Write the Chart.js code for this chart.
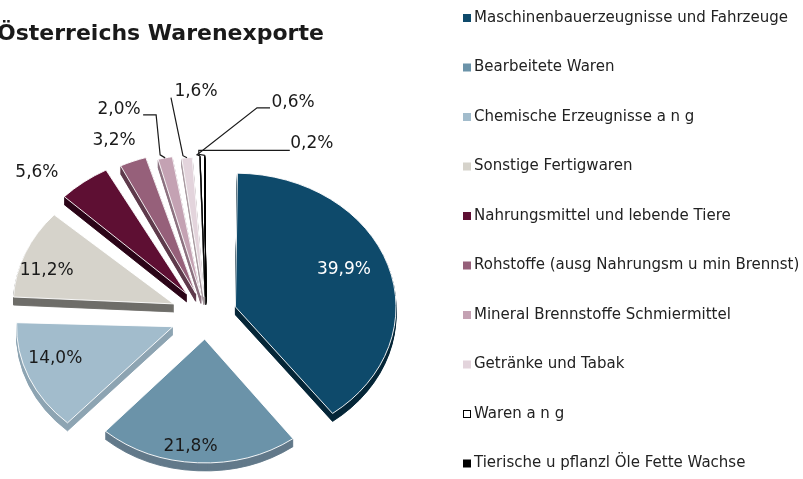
<!DOCTYPE html>
<html><head><meta charset="utf-8">
<script src="https://cdn.jsdelivr.net/npm/chart.js@4.4.1/dist/chart.umd.min.js"></script>
<style>html,body{margin:0;padding:0;background:#fff;} #wrap{width:803px;height:479px;position:relative;overflow:hidden;}</style>
</head><body><div id="wrap"><canvas id="c" width="803" height="479"></canvas></div>
<script>
// ---- data ----
const titleText = 'Österreichs Warenexporte';
const categories = [
  'Maschinenbauerzeugnisse und Fahrzeuge',
  'Bearbeitete Waren',
  'Chemische Erzeugnisse a n g',
  'Sonstige Fertigwaren',
  'Nahrungsmittel und lebende Tiere',
  'Rohstoffe (ausg Nahrungsm u min Brennst)',
  'Mineral Brennstoffe Schmiermittel',
  'Getränke und Tabak',
  'Waren a n g',
  'Tierische u pflanzl Öle Fette Wachse'
];
const shares = [39.9, 21.8, 14.0, 11.2, 5.6, 3.2, 2.0, 1.6, 0.6, 0.2];

// ---- styles ----
const topColors  = ['#0e4a6b','#6b93a9','#a2bccc','#d6d3cb','#5e0f33','#96607a','#c4a2b3','#e3d4dc','#ffffff','#000000'];
const sideColors = ['#062638','#62798a','#8da4b2','#6e6d69','#2c0618','#5e3a4b','#8c7280','#a89aa1','#8a8a8a','#000000'];
const edgeColors = ['#ffffff','#ffffff','#ffffff','#ffffff','#ffffff','#ffffff','#ffffff','#ffffff','#000000','#000000'];
const explode    = [124, 116, 144, 140, 128, 112, 96, 88, 88, 88];
const TILT = 0.833, DEPTH = 8;
const FONT = '"DejaVu Sans", sans-serif';

// label placement (inside labels: radial fraction + angle tweak; callouts: offset from slice tip)
const inside = {0:{f:0.73, da:-3.2, color:'#ffffff'}, 1:{f:0.87, da:2.9}, 2:{f:0.79, da:3.8}, 3:{f:0.83, da:-3.8}};
const callouts = {
  4:{dx:-47, dy:-9,  pts:[]},
  5:{dx:-19, dy:-21, pts:[]},
  6:{dx:-46, dy:-48, pts:[{a:[-5,-3]},{l:[37,5]},{l:[24,5]}]},
  7:{dx:9,   dy:-66, pts:[{a:[-4,-2]},{l:[-25,6]}]},
  8:{dx:93,  dy:-53, pts:[{a:[-3,-1]},{l:[-36,5]},{l:[-23,5]}]},
  9:{dx:107, dy:-12, pts:[{a:[-6,-1]},{a:[-6,-5]},{l:[-22,7]}]}
};
const fmt = v => v.toFixed(1).replace('.', ',') + '%';

function geom(el) {
  const t = (el.options.offset || 0) / 4;
  const fix = 1 - Math.sin(Math.min(Math.PI, el.circumference));
  return {t, r: el.outerRadius + t * fix, mid: (el.startAngle + el.endAngle) / 2};
}
function scr(el, dist, ang) {
  return {x: el.x + Math.cos(ang) * dist, y: el.y + Math.sin(ang) * dist * TILT};
}

const tiltPlugin = {
  id: 'tilt',
  beforeDatasetsDraw(chart) {
    const ctx = chart.ctx, meta = chart.getDatasetMeta(0);
    const cx = meta.data[0].x, cy = meta.data[0].y;
    ctx.save();
    ctx.translate(cx, cy); ctx.scale(1, TILT); ctx.translate(-cx, -cy);
    for (let d = DEPTH; d >= 1; d--) {
      ctx.save();
      ctx.translate(0, d / TILT);
      meta.data.forEach((el, i) => {
        const saved = el.options;
        el.options = Object.assign({}, saved, {backgroundColor: sideColors[i], borderColor: sideColors[i]});
        el.draw(ctx);
        el.options = saved;
      });
      ctx.restore();
    }
  },
  afterDatasetsDraw(chart) { chart.ctx.restore(); }
};

const textPlugin = {
  id: 'texts',
  afterDraw(chart) {
    const ctx = chart.ctx, meta = chart.getDatasetMeta(0);
    ctx.save();
    // title
    ctx.fillStyle = '#1a1a1a';
    ctx.font = 'bold 22px ' + FONT;
    ctx.textAlign = 'left'; ctx.textBaseline = 'alphabetic';
    ctx.fillText(titleText, -3, 40);
    // value labels
    ctx.font = '17px ' + FONT;
    ctx.textAlign = 'center'; ctx.textBaseline = 'middle';
    meta.data.forEach((el, i) => {
      const g = geom(el);
      const txt = fmt(shares[i]);
      if (inside[i]) {
        const L = inside[i];
        const p = scr(el, g.t + L.f * g.r, g.mid + L.da * Math.PI / 180);
        ctx.fillStyle = L.color || '#1a1a1a';
        ctx.fillText(txt, p.x, p.y);
      } else if (callouts[i]) {
        const C = callouts[i];
        const a = scr(el, g.t + g.r, g.mid);
        const lx = a.x + C.dx, ly = a.y + C.dy;
        if (C.pts.length) {
          ctx.strokeStyle = '#1a1a1a'; ctx.lineWidth = 1.2;
          ctx.beginPath(); ctx.moveTo(a.x, a.y);
          C.pts.forEach(q => q.a ? ctx.lineTo(a.x + q.a[0], a.y + q.a[1]) : ctx.lineTo(lx + q.l[0], ly + q.l[1]));
          ctx.stroke();
        }
        ctx.fillStyle = '#1a1a1a';
        ctx.fillText(txt, lx, ly);
      }
    });
    // legend
    ctx.font = '15px ' + FONT;
    ctx.textAlign = 'left'; ctx.textBaseline = 'middle';
    categories.forEach((c, i) => {
      const y = 18 + i * 49.5;
      ctx.fillStyle = topColors[i];
      ctx.fillRect(463, y - 4, 8, 8);
      if (topColors[i] === '#ffffff') { ctx.strokeStyle = '#000'; ctx.lineWidth = 1; ctx.strokeRect(463.5, y - 3.5, 7, 7); }
      ctx.fillStyle = '#222';
      ctx.fillText(c, 474, y);
    });
    ctx.restore();
  }
};

new Chart(document.getElementById('c'), {
  type: 'pie',
  data: {
    labels: categories,
    datasets: [{
      data: shares,
      backgroundColor: topColors,
      borderColor: edgeColors,
      borderWidth: [1,1,1,1,1,1,1,1,1,1],
      offset: explode,
      radius: 148,
      clip: false
    }]
  },
  options: {
    responsive: false,
    animation: false,
    layout: {padding: {left: 0, right: 391, top: 151, bottom: 0}},
    plugins: {legend: {display: false}, tooltip: {enabled: false}, title: {display: false}}
  },
  plugins: [tiltPlugin, textPlugin]
});
</script>
</body></html>
